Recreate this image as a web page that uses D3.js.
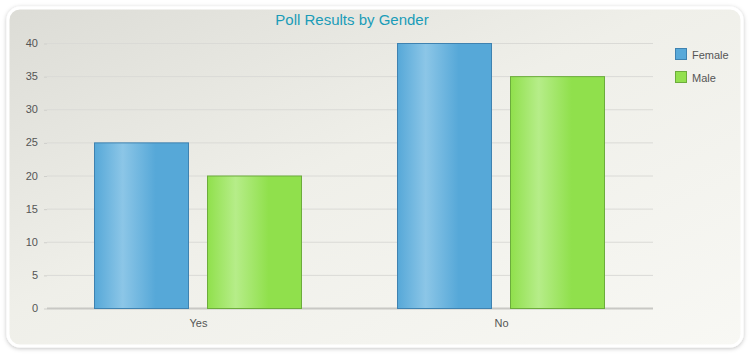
<!DOCTYPE html>
<html><head><meta charset="utf-8">
<script src="https://cdn.jsdelivr.net/npm/d3@7"></script>
<style>body{margin:0;background:#fff;}svg{display:block;font-family:"Liberation Sans",Arial,sans-serif;}</style>
</head><body>
<svg id="c" width="750" height="360"></svg>
<script>
const categories = ["Yes", "No"];
const seriesNames = ["Female", "Male"];
const female = [25, 40];
const male = [20, 35];
const yTicks = [0, 5, 10, 15, 20, 25, 30, 35, 40];
const title = "Poll Results by Gender";

const svg = d3.select("#c");
const defs = svg.append("defs");

const bg = defs.append("linearGradient").attr("id","bg").attr("x1","0").attr("y1","0").attr("x2","1").attr("y2","1");
bg.append("stop").attr("offset","0").attr("stop-color","#dcdcd6");
bg.append("stop").attr("offset","0.45").attr("stop-color","#efefe9");
bg.append("stop").attr("offset","1").attr("stop-color","#f8f8f4");

const flt = defs.append("filter").attr("id","sh").attr("x","-5%").attr("y","-5%").attr("width","110%").attr("height","110%");
flt.append("feDropShadow").attr("dx",0).attr("dy",1).attr("stdDeviation",2).attr("flood-color","#000").attr("flood-opacity",0.25);

function barGrad(id, edge, light) {
  const g = defs.append("linearGradient").attr("id", id).attr("x1","0").attr("y1","0").attr("x2","1").attr("y2","0");
  g.append("stop").attr("offset","0").attr("stop-color",edge);
  g.append("stop").attr("offset","0.3").attr("stop-color",light);
  g.append("stop").attr("offset","0.65").attr("stop-color",edge);
  g.append("stop").attr("offset","1").attr("stop-color",edge);
}
barGrad("gF", "#56a8d8", "#8cc6e7");
barGrad("gM", "#90e04c", "#b6ed89");
const fills = {Female: "url(#gF)", Male: "url(#gM)"};
const strokes = {Female: "#3f82b0", Male: "#6cac3c"};
const legendFill = {Female: "#58a9d9", Male: "#92e04e"};

svg.append("rect").attr("x",8).attr("y",8).attr("width",734).attr("height",338)
  .attr("rx",12).attr("fill","url(#bg)").attr("stroke","#fff").attr("stroke-width",3).attr("filter","url(#sh)");

const margin = {left: 47, right: 653, top: 43, bottom: 308};
const y = d3.scaleLinear().domain([0, 40]).range([margin.bottom, margin.top]);
const x0 = d3.scaleBand().domain(categories).range([margin.left, margin.right]).paddingInner(0).paddingOuter(0);
const x1 = d3.scaleBand().domain(seriesNames).range([47, 255]).paddingInner(18/113).paddingOuter(0);

// gridlines
svg.append("g").selectAll("line").data(yTicks).join("line")
  .attr("x1", margin.left).attr("x2", margin.right)
  .attr("y1", d => y(d) + 0.5).attr("y2", d => y(d) + 0.5)
  .attr("stroke", d => d === 0 ? "#c8c8c4" : "#dadad6").attr("stroke-width", d => d === 0 ? 2 : 1);

// y axis
const ya = svg.append("g").attr("transform", `translate(${margin.left},0)`)
  .call(d3.axisLeft(y).tickValues(yTicks).tickSize(3).tickPadding(6));
ya.select(".domain").remove();
ya.selectAll(".tick line").attr("stroke","#cfcfcb").attr("transform","translate(0,0.5)");
ya.selectAll("text").attr("fill","#555").attr("font-size","11px").attr("font-family","Liberation Sans, Arial, sans-serif");

// x axis labels
const xa = svg.append("g").attr("transform", `translate(0,${margin.bottom + 2})`)
  .call(d3.axisBottom(x0).tickSize(0).tickPadding(9));
xa.select(".domain").remove();
xa.selectAll("text").attr("fill","#555").attr("font-size","11px").attr("font-family","Liberation Sans, Arial, sans-serif");

// bars
const rows = categories.map((c, i) => ({cat: c, vals: [{s: "Female", v: female[i]}, {s: "Male", v: male[i]}]}));
svg.append("g").selectAll("g").data(rows).join("g")
  .attr("transform", d => `translate(${x0(d.cat)},0)`)
  .selectAll("rect").data(d => d.vals).join("rect")
  .attr("x", d => x1(d.s) + 0.5).attr("width", x1.bandwidth() - 1)
  .attr("y", d => y(d.v) + 0.5).attr("height", d => y(0) - y(d.v))
  .attr("fill", d => fills[d.s]).attr("stroke", d => strokes[d.s]).attr("stroke-width", 1);

// title
svg.append("text").attr("x", 352).attr("y", 25).attr("text-anchor","middle")
  .attr("fill","#1a9cb8").attr("font-size","15px").text(title);

// legend
const lg = svg.append("g").attr("transform","translate(675,48)");
const li = lg.selectAll("g").data(seriesNames).join("g").attr("transform", (d,i) => `translate(0,${i*23})`);
li.append("rect").attr("x",0.5).attr("y",0.5).attr("width",11).attr("height",11)
  .attr("fill", d => legendFill[d]).attr("stroke", d => strokes[d]);
li.append("text").attr("x",17).attr("y",10.5).attr("fill","#555").attr("font-size","11px").text(d => d);
</script>
</body></html>
